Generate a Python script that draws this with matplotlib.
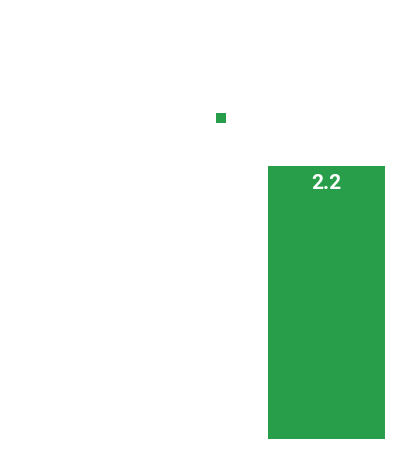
import matplotlib
matplotlib.use("Agg")
import matplotlib.pyplot as plt

categories = ["A"]
values = [2.2]
series_name = " "
color = "#289e4a"

fig = plt.figure(figsize=(4.15, 4.64), dpi=100)
ax = fig.add_axes([268/415, 24/464, 117/415, 273/464])
bars = ax.bar(categories, values, width=1.0, color=color, label=series_name)
ax.set_xlim(-0.5, 0.5)
ax.set_ylim(0, 2.2)
ax.axis("off")
for b, v in zip(bars, values):
    ax.text(b.get_x() + b.get_width()/2, v - 0.13, f"{v}", ha="center", va="center",
            color="white", fontsize=15, fontweight="bold", family="Roboto")
fig.legend(handles=[bars[0]], labels=[""], loc="center", bbox_to_anchor=(221/415, 1-120/464),
           frameon=False, handlelength=0.75, handleheight=0.75, handletextpad=0, borderpad=0)
fig.savefig("out.png", dpi=100)
